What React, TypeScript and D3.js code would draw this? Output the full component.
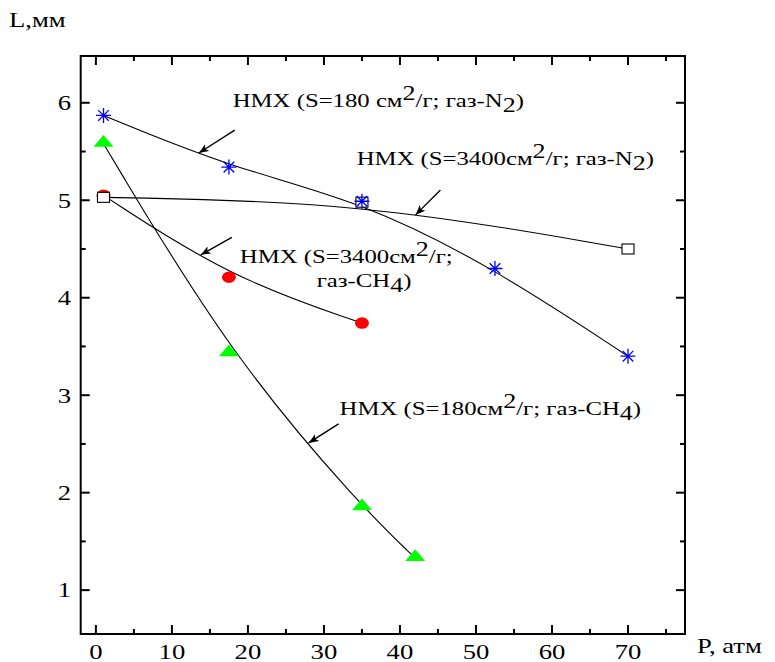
import React from 'react'
import * as d3 from 'd3'

// HMX, S=180 см2/г, газ N2
const p180N2 = [1, 17.5, 35, 52.5, 70]
const l180N2 = [5.87, 5.34, 4.99, 4.3, 3.4]
// HMX, S=3400 см2/г, газ N2
const p3400N2 = [1, 35, 70]
const l3400N2 = [5.03, 4.98, 4.5]
// HMX, S=3400 см2/г, газ CH4
const p3400CH4 = [1, 17.5, 35]
const l3400CH4 = [5.05, 4.21, 3.74]
// HMX, S=180 см2/г, газ CH4
const p180CH4 = [1, 17.5, 35, 42]
const l180CH4 = [5.58, 3.43, 1.85, 1.33]

const xTicks = [0, 10, 20, 30, 40, 50, 60, 70]
const xMinor = [5, 15, 25, 35, 45, 55, 65, 75]
const yTicks = [1, 2, 3, 4, 5, 6]
const yMinor = [1.5, 2.5, 3.5, 4.5, 5.5]

// label text parts: [main, sup, rest, sub, tail]
const labels = [
  { x: 18.0, y: 5.957, parts: ['HMX (S=180 см', '2', '/г; газ-N', '2', ')'] },
  { x: 34.3, y: 5.36, parts: ['HMX (S=3400см', '2', '/г; газ-N', '2', ')'] },
  { x: 18.93, y: 4.356, parts: ['HMX (S=3400см', '2', '/г;', '', ''] },
  { x: 29.05, y: 4.11, parts: ['газ-CH', '', '', '4', ')'] },
  { x: 32.06, y: 2.797, parts: ['HMX (S=180см', '2', '/г; газ-CH', '4', ')'] },
]
// arrows: tail -> head, in data units
const arrows = [
  [18.27, 5.72, 13.54, 5.485],
  [45.33, 5.105, 42.05, 4.85],
  [17.88, 4.62, 13.8, 4.44],
  [31.93, 2.705, 27.99, 2.51],
]

const W = 775
const H = 662
const FONT = "'Liberation Serif'"
const SX = 1.27 // the original picture is stretched sideways

const x = d3.scaleLinear().domain([-2, 77.5]).range([80.7, 685])
const y = d3.scaleLinear().domain([0.55, 6.48]).range([634, 56])
const [x0, x1] = x.range()
const [y1, y0] = y.range()

const line = d3.line<[number, number]>()
  .x(d => x(d[0]))
  .y(d => y(d[1]))
  .curve(d3.curveBasis)
const series = [
  [p180N2, l180N2],
  [p3400N2, l3400N2],
  [p3400CH4, l3400CH4],
  [p180CH4, l180CH4],
]

const tri = d3.symbol().type(d3.symbolTriangle).size(110)()
const r = 7.5
const rd = 5.3
const star = `M${-r},0H${r}M0,${-r}V${r}M${-rd},${-rd}L${rd},${rd}M${-rd},${rd}L${rd},${-rd}`

const at = (px: number, py: number) => `translate(${px},${py}) scale(${SX},1)`

function Label({ lb }: { lb: typeof labels[number] }) {
  const [a, sup, b, sub, c] = lb.parts
  return (
    <text transform={at(x(lb.x), y(lb.y))} style={{ fontFamily: FONT, fontSize: 19.5 }}>
      <tspan>{a}</tspan>
      {sup && <tspan dy={-7} style={{ fontSize: 20.5 }}>{sup}</tspan>}
      {b && <tspan dy={sup ? 7 : 0}>{b}</tspan>}
      {sub && <tspan dy={5} style={{ fontSize: 20.5 }}>{sub}</tspan>}
      {c && <tspan dy={sub ? -5 : 0}>{c}</tspan>}
    </text>
  )
}

function App() {
  const tick = (k: string, xa: number, ya: number, xb: number, yb: number) => (
    <line key={k} x1={xa} y1={ya} x2={xb} y2={yb} />
  )
  return (
    <svg width={W} height={H} style={{ position: 'absolute', left: 0, top: 0, background: '#fff' }}>
      <defs>
        <marker id="arr" markerUnits="userSpaceOnUse" markerWidth={12} markerHeight={10} refX={10} refY={4} orient="auto">
          <path d="M0,0 L10,4 L0,8 L2.5,4 Z" fill="#000" />
        </marker>
      </defs>

      {series.map(([ps, ls], k) => (
        <path
          key={k}
          d={line(ps.map((p, i) => [p, ls[i]] as [number, number])) || ''}
          fill="none"
          stroke="#000"
          strokeWidth={1.1}
        />
      ))}

      {p3400CH4.map((p, i) => (
        <ellipse key={'c' + i} cx={x(p)} cy={y(l3400CH4[i])} rx={7} ry={5.8} fill="#ff0000" />
      ))}
      {p3400N2.map((p, i) => (
        <rect key={'s' + i} x={x(p) - 6} y={y(l3400N2[i]) - 5} width={12} height={10} fill="#fff" stroke="#000" strokeWidth={1.1} />
      ))}
      {p180CH4.map((p, i) => (
        <path key={'t' + i} d={tri || ''} transform={`translate(${x(p)},${y(l180CH4[i]) - 1}) scale(1.25,0.85)`} fill="#00ff00" />
      ))}
      {p180N2.map((p, i) => (
        <path key={'a' + i} d={star} transform={`translate(${x(p)},${y(l180N2[i])})`} fill="none" stroke="#0000ff" strokeWidth={1.3} />
      ))}

      <rect x={x0} y={y0} width={x1 - x0} height={y1 - y0} fill="none" stroke="#000" strokeWidth={2} />
      <g stroke="#000" strokeWidth={2}>
        {xTicks.map(v => tick('xb' + v, x(v), y1, x(v), y1 - 9))}
        {xTicks.map(v => tick('xt' + v, x(v), y0, x(v), y0 + 9))}
        {xMinor.map(v => tick('mb' + v, x(v), y1, x(v), y1 - 5))}
        {xMinor.map(v => tick('mt' + v, x(v), y0, x(v), y0 + 5))}
        {yTicks.map(v => tick('yl' + v, x0, y(v), x0 + 9, y(v)))}
        {yTicks.map(v => tick('yr' + v, x1, y(v), x1 - 9, y(v)))}
        {yMinor.map(v => tick('nl' + v, x0, y(v), x0 + 5, y(v)))}
        {yMinor.map(v => tick('nr' + v, x1, y(v), x1 - 5, y(v)))}
      </g>

      <g fill="#000" style={{ fontFamily: FONT, fontSize: 21 }}>
        {xTicks.map(v => (
          <text key={'lx' + v} transform={at(x(v), 659)} textAnchor="middle">{v}</text>
        ))}
        {yTicks.map(v => (
          <text key={'ly' + v} transform={at(71, y(v))} dy="0.35em" textAnchor="end">{v}</text>
        ))}
        <text transform={at(9, 27)}>L,мм</text>
        <text transform={at(697, 653)}>P, атм</text>
      </g>

      {labels.map((lb, i) => <Label key={'lb' + i} lb={lb} />)}

      {arrows.map(([ax, ay, bx, by], i) => (
        <line key={'ar' + i} x1={x(ax)} y1={y(ay)} x2={x(bx)} y2={y(by)} stroke="#000" strokeWidth={1.4} markerEnd="url(#arr)" />
      ))}
    </svg>
  )
}

export default App
